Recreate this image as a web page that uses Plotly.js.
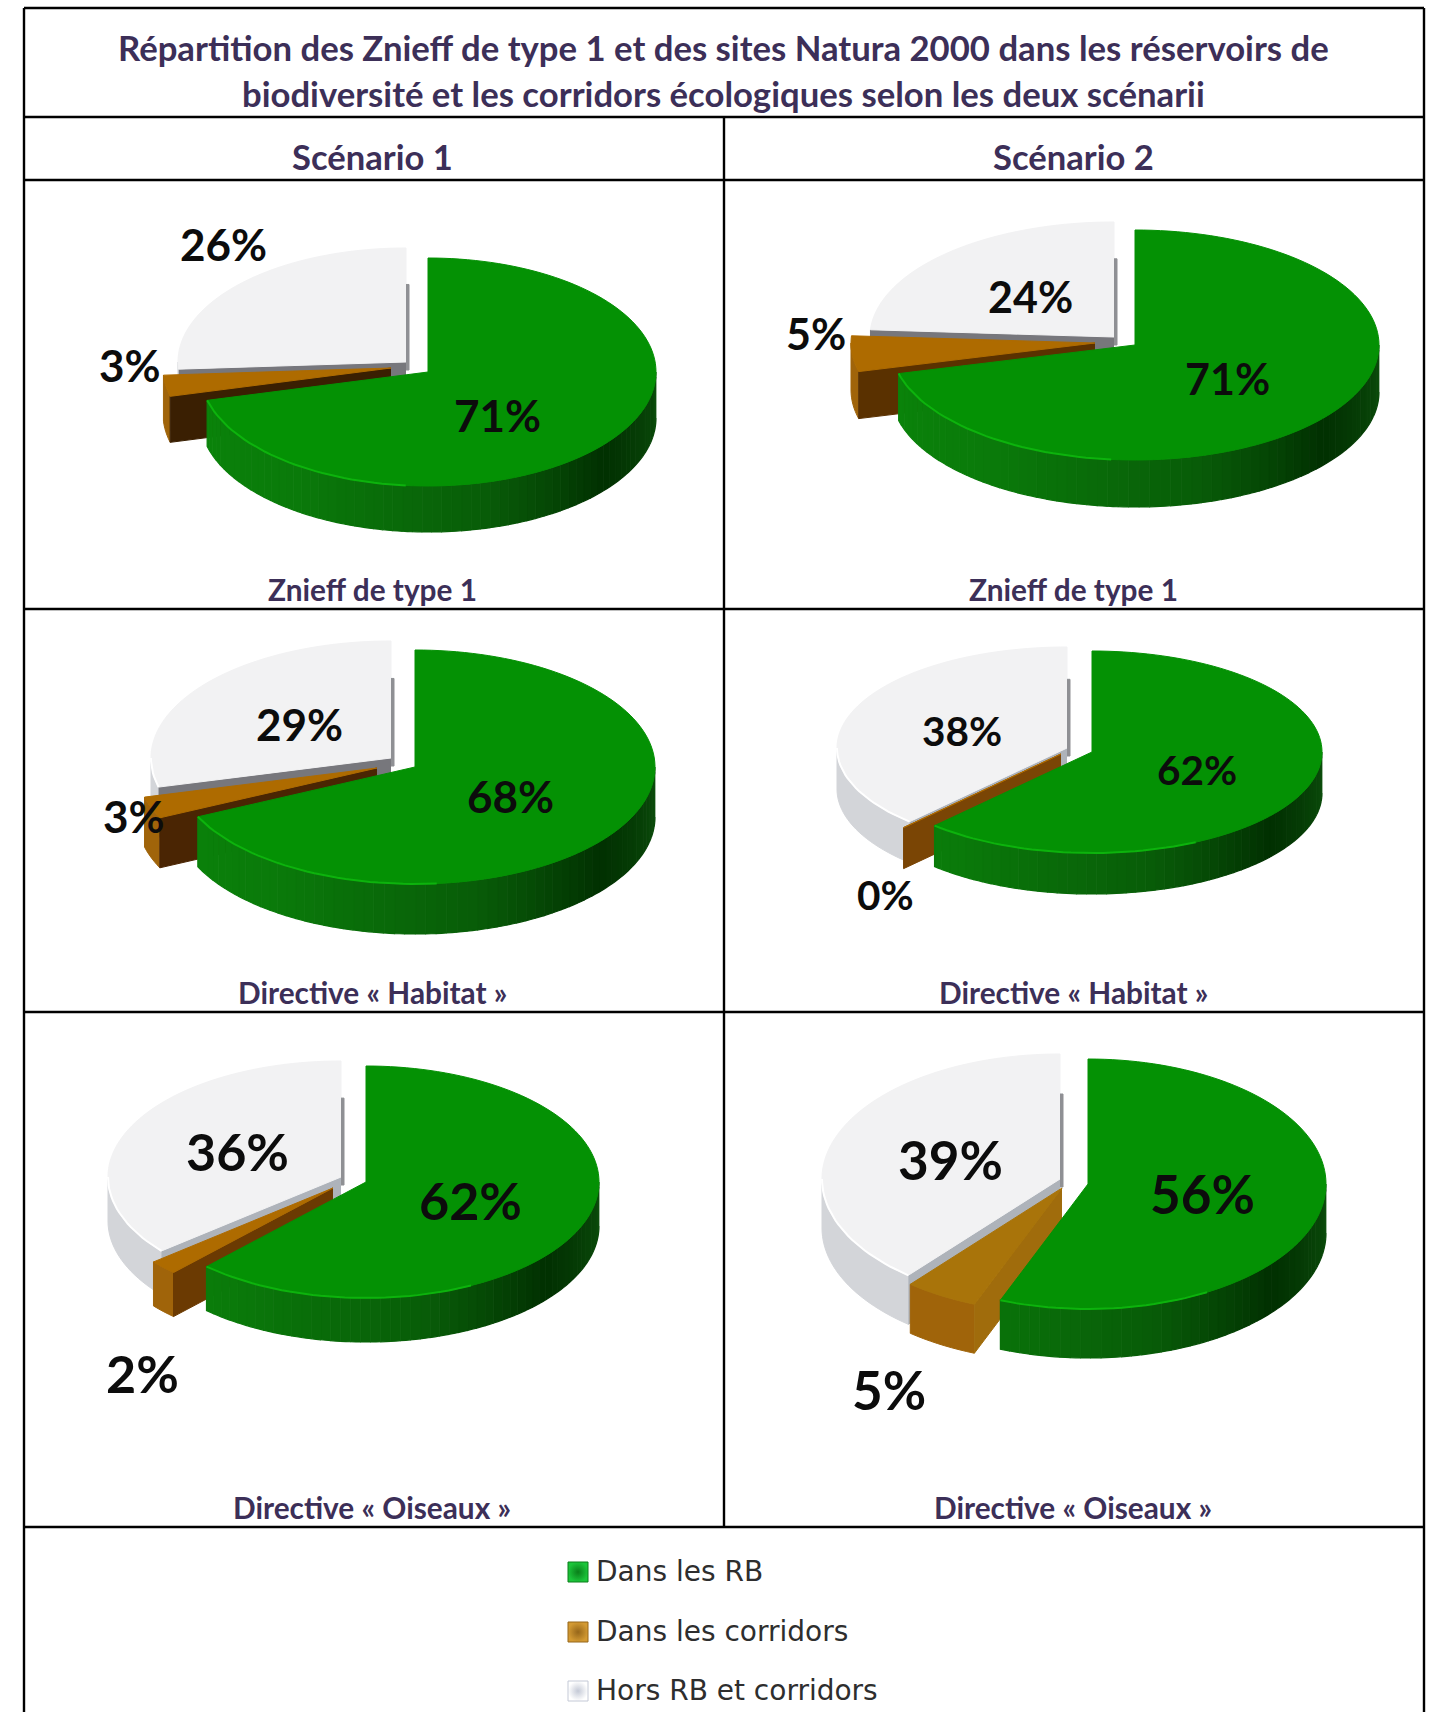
<!DOCTYPE html>
<html><head><meta charset="utf-8">
<script src="https://cdn.plot.ly/plotly-3.0.1.min.js"></script>
<style>html,body{margin:0;padding:0;background:#fff;overflow:hidden}</style>
</head><body><div id="chart" style="width:1434px;height:1712px"></div>
<script>
// ---- data ----
const categories = ['Dans les RB', 'Dans les corridors', 'Hors RB et corridors'];
const scenarios = ['Scénario 1', 'Scénario 2'];
const groups = ['Znieff de type 1', 'Directive « Habitat »', 'Directive « Oiseaux »'];
const s1Znieff = [71, 3, 26];
const s2Znieff = [71, 5, 24];
const s1Habitat = [68, 3, 29];
const s2Habitat = [62, 0, 38];
const s1Oiseaux = [62, 2, 36];
const s2Oiseaux = [56, 5, 39];
const titleLines = ['Répartition des Znieff de type 1 et des sites Natura 2000 dans les réservoirs de',
                    'biodiversité et les corridors écologiques selon les deux scénarii'];

// ---- page geometry and styles ----
const W = 1434, H = 1712;
const L = [24, 724, 1424], R = [8, 117, 180, 609, 1012, 1527];
const INK = '#3c2f58';
const panels = [
 {v:s1Znieff, a:228,b:114,d:46, g:[428,372], br:[391,368], w:[406,362], side:'#3a1f02', lab:[[497,415],[130,365],[223,244]], fs:44},
 {v:s2Znieff, a:244,b:115,d:47, g:[1135,345], br:[1095,343], w:[1114,337], side:'#5a3100', lab:[[1227,378],[816,333],[1030,296]], fs:43},
 {v:s1Habitat,a:240,b:117,d:50, g:[415,767], br:[377,768], w:[391,758], side:'#4a2503', lab:[[510,796],[134,816],[299,724]], fs:44},
 {v:s2Habitat,a:230,b:101,d:41, g:[1092,752], br:[1061,754], w:[1067,748], side:'#7a4505', lab:[[1197,769],[885,894],[962,730]], fs:40.5},
 {v:s1Oiseaux,a:233,b:116,d:44, g:[366,1182], br:[333,1188], w:[341,1177], side:'#6b3a02', lab:[[470,1200],[142,1373],[237,1151]], fs:52},
 {v:s2Oiseaux,a:238,b:125,d:49, g:[1088,1184], br:[1062,1188], w:[1060,1179], side:'#a06c0c', top:'#a9740a', lab:[[1202,1193],[889,1389],[950,1159]], fs:53}
];
const traces = [], annotations = [], shapes = [];

// angle deg clockwise from 12 o'clock
const pt = (c,p,deg,dy=0) => {
  const t = deg*Math.PI/180;
  return [c[0]+p.a*Math.sin(t), c[1]-p.b*Math.cos(t)+dy];
};
function poly(pts, color, name, lw=1){
  traces.push({type:'scatter', mode:'lines', fill:'toself', fillcolor:color,
    x:pts.map(q=>q[0]), y:pts.map(q=>q[1]), line:{color:color,width:lw,simplify:false},
    name:name||'', hoverinfo:name?'name':'skip', showlegend:false});
}
function arc(c,p,a0,a1,dy=0){
  const n = Math.max(2,Math.ceil(Math.abs(a1-a0)/2)), o=[];
  for(let i=0;i<=n;i++) o.push(pt(c,p,a0+(a1-a0)*i/n,dy));
  return o;
}
function topFace(c,p,a0,a1,color,name){ poly([c,...arc(c,p,a0,a1),c],color,name); }
function band(c,p,a0,a1,fill){
  // outer wall, only the part facing the viewer (90..270 deg)
  const s=Math.max(a0,90), e=Math.min(a1,270);
  if(e<=s) return;
  if(typeof fill==='string'){ poly([...arc(c,p,s,e),...arc(c,p,e,s,p.d)],fill); return; }
  const n=Math.max(1,Math.ceil((e-s)/2.5));
  for(let i=0;i<n;i++){
    const u=s+(e-s)*i/n, v=s+(e-s)*(i+1)/n;
    poly([...arc(c,p,u,v),...arc(c,p,v,u,p.d)],fill((u+v)/2),'',1.2);
  }
}
function radial(c,p,deg,color){
  const r=pt(c,p,deg);
  poly([c,r,[r[0],r[1]+p.d],[c[0],c[1]+p.d]],color);
}
function hex(h){return [1,3,5].map(i=>parseInt(h.substr(i,2),16));}
function ramp(stops){
  return deg=>{
    let i=0; while(i<stops.length-2 && deg>stops[i+1][0]) i++;
    const [a,ca]=stops[i],[b,cb]=stops[i+1];
    const t=Math.min(1,Math.max(0,(deg-a)/(b-a))), A=hex(ca),B=hex(cb);
    const m=A.map((x,k)=>Math.round(x+(B[k]-x)*t).toString(16).padStart(2,'0'));
    return '#'+m.join('');
  };
}
const greenWall = ramp([[90,'#0c4f0c'],[130,'#013001'],[165,'#085c08'],[215,'#0a7a0a'],[270,'#0a860a']]);

panels.forEach(p=>{
  const gEnd=p.v[0]*3.6, bEnd=(p.v[0]+p.v[1])*3.6;
  // white slice
  radial(p.w,p,bEnd,bEnd<240?'#aeb3ba':'#77777c');
  band(p.w,p,bEnd,360,'#d3d5d9');
  topFace(p.w,p,bEnd,360,'#f2f2f3',categories[2]);
  if(bEnd<265){ const e=arc(p.w,p,bEnd,270); traces.push({type:'scatter',mode:'lines',x:e.map(q=>q[0]),y:e.map(q=>q[1]),line:{color:'#ffffff',width:2},hoverinfo:'skip',showlegend:false}); }
  // thin grey face along the vertical cut
  const cutTop=p.w[1]-p.b*0.68;
  poly([[p.w[0],cutTop],[p.w[0]+3,cutTop],[p.w[0]+3,p.w[1]+8],[p.w[0],p.w[1]+8]],'#8f9094');
  // brown slice
  band(p.br,p,gEnd,bEnd,'#a0640a');
  radial(p.br,p,gEnd,p.side);
  topFace(p.br,p,gEnd,bEnd,p.top||'#ae6b00',categories[1]);
  // green slice
  band(p.g,p,90,gEnd,greenWall);
  topFace(p.g,p,0,gEnd,'#049104',categories[0]);
  const rim=arc(p.g,p,Math.max(150,gEnd-70),gEnd);
  traces.push({type:'scatter',mode:'lines',x:rim.map(q=>q[0]),y:rim.map(q=>q[1]),line:{color:'#0db30d',width:2},hoverinfo:'skip',showlegend:false});
  // percentage labels
  p.v.forEach((val,i)=>annotations.push({xref:'x',yref:'y',x:p.lab[i][0],y:p.lab[i][1],text:'<b>'+val+'%</b>',showarrow:false,
    xanchor:'center',yanchor:'middle',font:{family:'Lato',size:p.fs,color:'#0c0c0c'}}));
});

// legend swatches and names
const swatchX=[578,578,578], swatchY=[1572,1632,1691];
const swatchFill=['#0a7f1a','#96661a','#c4c9d6'], swatchGlow=['#1cc53a','#d39a33','#ffffff'];
traces.push({type:'scatter',mode:'markers',x:swatchX,y:swatchY,text:categories,hoverinfo:'text',showlegend:false,
  marker:{symbol:'square',size:20,color:swatchGlow,line:{width:1,color:swatchFill},gradient:{type:'radial',color:swatchFill}}});
categories.forEach((c,i)=>annotations.push({xref:'x',yref:'y',x:594,y:swatchY[i]-1,text:c,showarrow:false,xanchor:'left',yanchor:'middle',
  font:{family:'DejaVu Sans',size:28,color:'#2e2e2e'}}));

// table text
titleLines.forEach((t,i)=>annotations.push({xref:'x',yref:'y',x:723,y:[47,93][i],text:'<b>'+t+'</b>',showarrow:false,xanchor:'center',yanchor:'middle',
  font:{family:'Lato',size:34.7,color:INK}}));
scenarios.forEach((t,i)=>annotations.push({xref:'x',yref:'y',x:[372,1073][i],y:156,text:'<b>'+t+'</b>',showarrow:false,xanchor:'center',yanchor:'middle',
  font:{family:'Lato',size:34.6,color:INK}}));
groups.forEach((g,r)=>[372,1073].forEach(x=>annotations.push({xref:'x',yref:'y',x:x,y:[589,992,1507][r],text:'<b>'+g+'</b>',showarrow:false,xanchor:'center',yanchor:'middle',
  font:{family:'Lato',size:29.8,color:INK}})));

// table rules
const rule=(x0,y0,x1,y1)=>shapes.push({type:'line',xref:'x',yref:'y',x0,y0,x1,y1,line:{color:'#000',width:2.4},layer:'below'});
R.forEach(y=>rule(L[0],y,L[2],y));
rule(L[0],R[0],L[0],H); rule(L[2],R[0],L[2],H); rule(L[1],R[1],L[1],R[5]);

Plotly.newPlot('chart',traces,{
  width:W,height:H,margin:{l:0,r:0,t:0,b:0},paper_bgcolor:'#fff',plot_bgcolor:'#fff',showlegend:false,hovermode:'closest',
  xaxis:{range:[0,W],visible:false,fixedrange:true},
  yaxis:{range:[H,0],visible:false,fixedrange:true},
  annotations,shapes
},{displayModeBar:false});
</script></body></html>
